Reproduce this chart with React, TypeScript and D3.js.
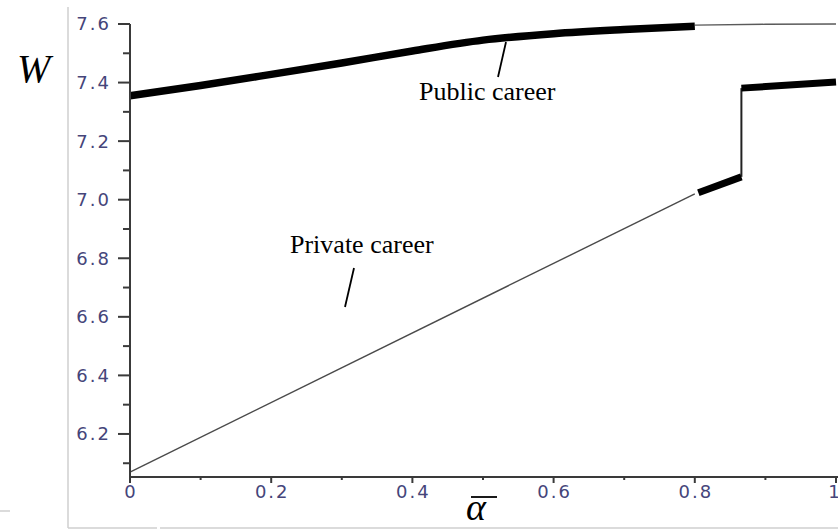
import React, { useEffect, useRef } from 'react';
import * as d3 from 'd3';

// public career: thick part (alpha, W), then thin tail
const publicThickAlpha = [0, 0.1, 0.2, 0.3, 0.4, 0.5, 0.6, 0.7, 0.8];
const publicThickW = [7.355, 7.39, 7.428, 7.467, 7.508, 7.545, 7.567, 7.581, 7.592];
const publicThinAlpha = [0.8, 0.9, 1.0];
const publicThinW = [7.596, 7.599, 7.6];

// private career: thin line, thick pieces, jump
const privateThinAlpha = [0, 0.8];
const privateThinW = [6.07, 7.02];
const privateThick1Alpha = [0.805, 0.866];
const privateThick1W = [7.024, 7.078];
const jumpAlpha = [0.866, 0.866];
const jumpW = [7.078, 7.381];
const privateThick2Alpha = [0.866, 1.0];
const privateThick2W = [7.381, 7.402];

const yMajor = [6.2, 6.4, 6.6, 6.8, 7.0, 7.2, 7.4, 7.6];
const yMinor = [6.1, 6.3, 6.5, 6.7, 6.9, 7.1, 7.3, 7.5];
const xMajor = [0, 0.2, 0.4, 0.6, 0.8, 1];
const xMinor = [0.1, 0.3, 0.5, 0.7, 0.9];

function App() {
  const ref = useRef<SVGSVGElement>(null);

  useEffect(() => {
    const svg = d3.select(ref.current);
    svg.selectAll('*').remove();

    const x = d3.scaleLinear().domain([0, 1]).range([130, 836]);
    const y = d3.scaleLinear().domain([6.053, 7.6]).range([477, 24]);

    // faint frame left over from the scan
    const frame = '#cfcfcf';
    svg.append('line').attr('x1', 68).attr('x2', 68).attr('y1', 7).attr('y2', 528)
      .attr('stroke', frame).attr('stroke-width', 1.5);
    svg.append('line').attr('x1', 68).attr('x2', 157).attr('y1', 528).attr('y2', 528)
      .attr('stroke', frame).attr('stroke-width', 1.5);
    svg.append('line').attr('x1', 160).attr('x2', 838).attr('y1', 528).attr('y2', 528)
      .attr('stroke', frame).attr('stroke-width', 1.5);
    svg.append('line').attr('x1', 0).attr('x2', 10).attr('y1', 511).attr('y2', 511)
      .attr('stroke', frame).attr('stroke-width', 1.5);

    const line = d3.line<[number, number]>()
      .x(d => x(d[0]))
      .y(d => y(d[1]));
    const curve = d3.line<[number, number]>()
      .x(d => x(d[0]))
      .y(d => y(d[1]))
      .curve(d3.curveMonotoneX);
    const zip = (a: number[], b: number[]) => a.map((v, i) => [v, b[i]] as [number, number]);

    // thin lines
    svg.append('path').attr('d', line(zip(privateThinAlpha, privateThinW)))
      .attr('fill', 'none').attr('stroke', '#4a4a4a').attr('stroke-width', 1.4);
    svg.append('path').attr('d', line(zip(publicThinAlpha, publicThinW)))
      .attr('fill', 'none').attr('stroke', '#5a5a5a').attr('stroke-width', 1.4);
    svg.append('path').attr('d', line(zip(jumpAlpha, jumpW)))
      .attr('fill', 'none').attr('stroke', '#222').attr('stroke-width', 2);

    // thick lines
    svg.append('path').attr('d', curve(zip(publicThickAlpha, publicThickW)))
      .attr('fill', 'none').attr('stroke', '#000').attr('stroke-width', 7.5);
    svg.append('path').attr('d', line(zip(privateThick1Alpha, privateThick1W)))
      .attr('fill', 'none').attr('stroke', '#000').attr('stroke-width', 7);
    svg.append('path').attr('d', line(zip(privateThick2Alpha, privateThick2W)))
      .attr('fill', 'none').attr('stroke', '#000').attr('stroke-width', 7);

    // axes
    const axisColor = '#3a3a3a';
    const labelColor = '#45457a';
    svg.append('line').attr('x1', x(0)).attr('x2', x(0)).attr('y1', y(7.6)).attr('y2', y.range()[0])
      .attr('stroke', axisColor).attr('stroke-width', 2);
    svg.append('line').attr('x1', x(0)).attr('x2', 838).attr('y1', y.range()[0]).attr('y2', y.range()[0])
      .attr('stroke', axisColor).attr('stroke-width', 2);

    yMajor.forEach(v => {
      svg.append('line').attr('x1', x(0) - 12).attr('x2', x(0)).attr('y1', y(v)).attr('y2', y(v))
        .attr('stroke', axisColor).attr('stroke-width', 2);
      svg.append('text').attr('x', 111).attr('y', y(v)).attr('dy', '0.36em')
        .attr('text-anchor', 'end').attr('font-family', 'DejaVu Sans').attr('font-size', 18)
        .attr('letter-spacing', 2).attr('fill', labelColor).text(d3.format('.1f')(v));
    });
    yMinor.forEach(v => {
      svg.append('line').attr('x1', x(0) - 7).attr('x2', x(0)).attr('y1', y(v)).attr('y2', y(v))
        .attr('stroke', axisColor).attr('stroke-width', 2);
    });
    xMajor.forEach(v => {
      svg.append('line').attr('x1', x(v)).attr('x2', x(v)).attr('y1', 477).attr('y2', 483)
        .attr('stroke', axisColor).attr('stroke-width', 2);
      svg.append('text').attr('x', x(v) + (v === 1 ? -1 : 1)).attr('y', 498)
        .attr('text-anchor', 'middle').attr('font-family', 'DejaVu Sans').attr('font-size', 18)
        .attr('letter-spacing', 2).attr('fill', labelColor).text(String(v));
    });
    xMinor.forEach(v => {
      svg.append('line').attr('x1', x(v)).attr('x2', x(v)).attr('y1', 477).attr('y2', 480)
        .attr('stroke', axisColor).attr('stroke-width', 2);
    });

    // axis titles
    svg.append('text').attr('x', 17).attr('y', 82)
      .attr('font-family', 'Liberation Serif').attr('font-style', 'italic').attr('font-size', 40)
      .attr('fill', '#000').text('W');
    svg.append('text').attr('x', 466).attr('y', 520)
      .attr('font-family', 'Liberation Serif').attr('font-style', 'italic').attr('font-size', 38)
      .attr('fill', '#000').text('α');
    svg.append('line').attr('x1', 471).attr('x2', 497).attr('y1', 497).attr('y2', 497)
      .attr('stroke', '#000').attr('stroke-width', 1.8);

    // annotations
    svg.append('text').attr('x', 419).attr('y', 100)
      .attr('font-family', 'Liberation Serif').attr('font-size', 26).attr('fill', '#000')
      .text('Public career');
    svg.append('line').attr('x1', 506).attr('y1', 42).attr('x2', 498).attr('y2', 77)
      .attr('stroke', '#000').attr('stroke-width', 1.8);
    svg.append('text').attr('x', 290).attr('y', 253)
      .attr('font-family', 'Liberation Serif').attr('font-size', 26).attr('fill', '#000')
      .text('Private career');
    svg.append('line').attr('x1', 354).attr('y1', 268).attr('x2', 345).attr('y2', 307)
      .attr('stroke', '#000').attr('stroke-width', 1.8);
  }, []);

  return (
    <svg ref={ref} width={838} height={531}
      style={{ position: 'absolute', left: 0, top: 0, background: '#fff' }} />
  );
}

export default App;
